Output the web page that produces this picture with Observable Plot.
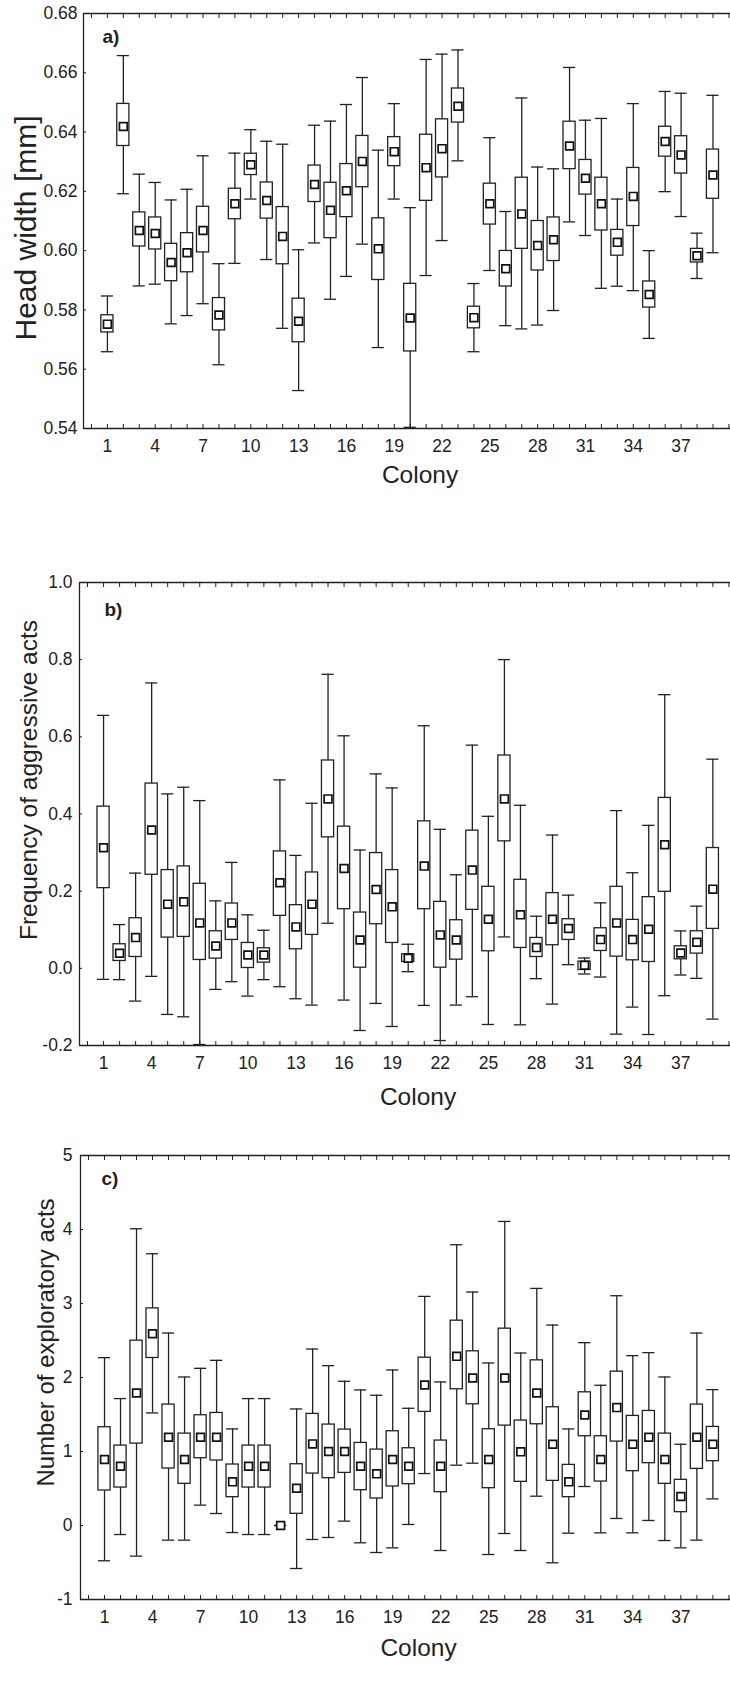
<!DOCTYPE html>
<html>
<head>
<meta charset="utf-8">
<script src="https://cdn.jsdelivr.net/npm/d3@7"></script>
<script src="https://cdn.jsdelivr.net/npm/@observablehq/plot@0.6"></script>
<style>
  body { margin: 0; background: #fff; }
  #chart svg { display: block; }
</style>
</head>
<body>
<div id="chart"></div>
<script>
// ---------- shared ----------
const colonies = d3.range(1, 40);
const xTickLabels = d3.range(1, 40, 3);
const xMinorTicks = d3.range(0, 41);
const xDomain = [-0.5, 40.1];

// ---------- panel a: head width ----------
const headTicks = [0.54, 0.56, 0.58, 0.60, 0.62, 0.64, 0.66, 0.68];
const headMean = [0.5752,0.6419,0.6068,0.6058,0.5960,0.5993,0.6068,0.5783,0.6158,0.6290,0.6169,0.6048,0.5762,0.6223,0.6136,0.6202,0.6301,0.6006,0.6334,0.5773,0.6280,0.6344,0.6487,0.5774,0.6158,0.5939,0.6124,0.6017,0.6037,0.6353,0.6244,0.6158,0.6028,0.6183,0.5852,0.6368,0.6323,0.5983,0.6255];
const headBoxLow = [0.5724,0.6353,0.6014,0.6004,0.5897,0.5927,0.5994,0.5731,0.6106,0.6255,0.6108,0.5954,0.5691,0.6164,0.6042,0.6113,0.6214,0.5901,0.6285,0.5660,0.6168,0.6247,0.6432,0.5738,0.6088,0.5879,0.6006,0.5933,0.5965,0.6275,0.6189,0.6068,0.5983,0.6083,0.5808,0.6317,0.6260,0.5960,0.6175];
const headBoxHigh = [0.5782,0.6495,0.6129,0.6112,0.6023,0.6059,0.6148,0.5840,0.6209,0.6327,0.6230,0.6147,0.5838,0.6287,0.6229,0.6292,0.6387,0.6109,0.6383,0.5888,0.6391,0.6443,0.6547,0.5811,0.6226,0.5999,0.6246,0.6100,0.6112,0.6435,0.6306,0.6246,0.6070,0.6279,0.5896,0.6418,0.6386,0.6006,0.6341];
const headWhiskerLow = [0.5659,0.6192,0.5881,0.5887,0.5753,0.5781,0.5821,0.5615,0.5957,0.6174,0.5970,0.5738,0.5528,0.6026,0.5836,0.5913,0.6022,0.5673,0.6174,0.5404,0.5916,0.6034,0.6303,0.5659,0.5933,0.5747,0.5736,0.5749,0.5798,0.6097,0.6051,0.5873,0.5880,0.5865,0.5704,0.6199,0.6115,0.5906,0.5993];
const headWhiskerHigh = [0.5847,0.6658,0.6258,0.6230,0.6171,0.6207,0.6320,0.5956,0.6329,0.6408,0.6369,0.6359,0.6003,0.6423,0.6437,0.6493,0.6584,0.6339,0.6496,0.6145,0.6645,0.6663,0.6677,0.5889,0.6381,0.6132,0.6515,0.6282,0.6276,0.6618,0.6440,0.6446,0.6174,0.6496,0.6000,0.6537,0.6531,0.6059,0.6524];

// ---------- panel b: aggressive acts ----------
const aggrTicks = [-0.2, 0.0, 0.2, 0.4, 0.6, 0.8, 1.0];
const aggrMean = [0.3126,0.0390,0.0797,0.3585,0.1663,0.1723,0.1178,0.0580,0.1178,0.0346,0.0346,0.2217,0.1074,0.1663,0.4391,0.2589,0.0736,0.2044,0.1593,0.0260,0.2650,0.0866,0.0736,0.2546,0.1273,0.4391,0.1386,0.0537,0.1273,0.1031,0.0078,0.0745,0.1178,0.0745,0.1013,0.3204,0.0398,0.0675,0.2052];
const aggrBoxLow = [0.2078,0.0191,0.0294,0.2425,0.0797,0.0814,0.0217,0.0251,0.0736,0.0009,0.0147,0.1360,0.0494,0.0866,0.3395,0.1533,0.0017,0.1143,0.0658,0.0165,0.1533,0.0017,0.0225,0.1516,0.0442,0.3291,0.0528,0.0294,0.0598,0.0736,-0.0043,0.0450,0.0303,0.0208,0.0165,0.1983,0.0234,0.0381,0.1022];
const aggrBoxHigh = [0.4191,0.0624,0.1299,0.4789,0.2546,0.2641,0.2191,0.0961,0.1680,0.0658,0.0520,0.3031,0.1637,0.2485,0.5387,0.3672,0.1446,0.2988,0.2546,0.0364,0.3810,0.1723,0.1247,0.3568,0.2113,0.5516,0.2295,0.0788,0.1949,0.1273,0.0173,0.1039,0.2113,0.1256,0.1845,0.4417,0.0572,0.0961,0.3118];
const aggrWhiskerLow = [-0.0286,-0.0294,-0.0849,-0.0208,-0.1195,-0.1256,-0.1974,-0.0546,-0.0346,-0.0719,-0.0294,-0.0476,-0.0788,-0.0953,0.1169,-0.0823,-0.1611,-0.0909,-0.1507,-0.0087,-0.0961,-0.1871,-0.0953,-0.0736,-0.1455,0.0814,-0.1464,-0.0268,-0.0927,0.0095,-0.0147,-0.0225,-0.1706,-0.1005,-0.1715,-0.0710,-0.0173,-0.0260,-0.1316];
const aggrWhiskerHigh = [0.6556,0.1134,0.2468,0.7396,0.4521,0.4694,0.4347,0.1749,0.2745,0.1386,0.0987,0.4884,0.2927,0.4278,0.7621,0.6027,0.3066,0.5040,0.4676,0.0624,0.6287,0.3603,0.2425,0.5785,0.3940,0.8002,0.4226,0.1351,0.3455,0.1897,0.0268,0.1697,0.4088,0.2477,0.3706,0.7093,0.0970,0.1611,0.5421];

// ---------- panel c: exploratory acts ----------
const explTicks = [-1, 0, 1, 2, 3, 4, 5];
const explMean = [0.891,0.801,1.791,2.592,1.193,0.891,1.193,1.193,0.590,0.801,0.801,0,0.504,1.103,0.999,0.999,0.801,0.698,0.891,0.801,1.899,0.801,2.286,1.994,0.891,1.994,0.995,1.791,1.098,0.590,1.494,0.891,1.593,1.098,1.193,0.891,0.392,1.193,1.098];
const explBoxLow = [0.473,0.513,1.107,2.264,0.770,0.563,0.909,0.878,0.383,0.513,0.513,0,0.158,0.702,0.639,0.711,0.477,0.365,0.527,0.558,1.535,0.450,1.841,1.638,0.504,1.350,0.590,1.368,0.603,0.383,1.206,0.594,1.134,0.734,0.842,0.563,0.180,0.765,0.869];
const explBoxHigh = [1.328,1.080,2.498,2.934,1.634,1.242,1.490,1.521,0.824,1.080,1.080,0,0.828,1.508,1.364,1.296,1.116,1.026,1.274,1.044,2.268,1.148,2.768,2.354,1.301,2.660,1.418,2.232,1.598,0.819,1.800,1.206,2.079,1.481,1.548,1.242,0.617,1.634,1.332];
const explWhiskerLow = [-0.477,-0.122,-0.414,1.521,-0.198,-0.198,0.275,0.162,-0.095,-0.122,-0.122,0,-0.581,-0.189,-0.162,0.059,-0.234,-0.365,-0.302,0.014,0.702,-0.338,0.815,0.842,-0.392,-0.108,-0.338,0.396,-0.504,-0.104,0.527,-0.099,0.095,-0.099,0.068,-0.203,-0.302,-0.198,0.360];
const explWhiskerHigh = [2.268,1.715,4.010,3.672,2.601,2.007,2.124,2.232,1.305,1.715,1.715,0,1.575,2.385,2.160,1.949,1.832,1.760,2.102,1.584,3.096,1.940,3.794,3.155,2.196,4.109,2.331,3.204,2.709,1.305,2.471,1.895,3.105,2.295,2.336,2.007,1.098,2.601,1.836];

// ---------- drawing ----------
const FONT = "'Liberation Sans', Arial, Helvetica, sans-serif";
const INK = "#222";
const BOX_HALF = 0.38;

function panel(cfg) {
  const rows = colonies.map((c, i) => ({
    colony: c,
    mean: cfg.mean[i],
    bLo: cfg.boxLow[i],
    bHi: cfg.boxHigh[i],
    wLo: cfg.whiskerLow[i],
    wHi: cfg.whiskerHigh[i]
  }));
  const [yMin, yMax] = d3.extent(cfg.ticks);
  return Plot.plot({
    width: 730,
    height: cfg.height,
    marginLeft: cfg.marginLeft,
    marginRight: 0,
    marginTop: cfg.marginTop,
    marginBottom: cfg.marginBottom,
    style: {fontFamily: FONT, fontSize: "17.5px", color: INK, background: "white"},
    x: {domain: xDomain},
    y: {domain: [yMin, yMax]},
    marks: [
      // whiskers
      Plot.ruleX(rows, {x: "colony", y1: "wLo", y2: "wHi", stroke: INK, strokeWidth: 1.3}),
      Plot.ruleY(rows, {y: "wHi", x1: d => d.colony - BOX_HALF, x2: d => d.colony + BOX_HALF, stroke: INK, strokeWidth: 1.3}),
      Plot.ruleY(rows, {y: "wLo", x1: d => d.colony - BOX_HALF, x2: d => d.colony + BOX_HALF, stroke: INK, strokeWidth: 1.3}),
      // boxes
      Plot.rect(rows, {x1: d => d.colony - BOX_HALF, x2: d => d.colony + BOX_HALF, y1: "bLo", y2: "bHi", fill: "white", stroke: INK, strokeWidth: 1.3}),
      // means
      Plot.dot(rows, {x: "colony", y: "mean", symbol: "square", r: 4.4, fill: "white", stroke: "#111", strokeWidth: 1.7}),
      // frame (left, top, bottom)
      Plot.ruleY([yMin], {stroke: INK, strokeWidth: 1.3}),
      Plot.ruleY([yMax], {stroke: INK, strokeWidth: 1.3}),
      Plot.ruleX([xDomain[0]], {stroke: INK, strokeWidth: 1.3}),
      // axes
      Plot.axisY({ticks: cfg.ticks, tickSize: 0, tickPadding: cfg.yPad, tickFormat: cfg.format, label: null, fontSize: 17.5}),
      Plot.axisY({ticks: cfg.ticks, tickSize: -3, tickFormat: () => "", label: null, stroke: INK}),
      Plot.axisX({anchor: "bottom", ticks: xTickLabels, tickSize: 0, tickPadding: 11, tickFormat: d => String(d), label: null, fontSize: 17.5}),
      Plot.axisX({anchor: "bottom", ticks: xMinorTicks, tickSize: -4, tickFormat: () => "", label: null, stroke: INK}),
      Plot.axisX({anchor: "top", ticks: xMinorTicks, tickSize: -4, tickFormat: () => "", label: null, stroke: INK}),
      // labels
      Plot.text([cfg.yLabel], {text: d => d, frameAnchor: "left", rotate: -90, dx: cfg.yLabelDx, dy: cfg.yLabelDy, fontSize: cfg.yLabelSize, textAnchor: "middle", lineAnchor: "middle", fill: INK}),
      Plot.text(["Colony"], {text: d => d, frameAnchor: "bottom", dx: 13, dy: cfg.colonyDy, fontSize: 24.5, lineAnchor: "middle", fill: INK}),
      Plot.text([cfg.letter], {text: d => d, frameAnchor: "top-left", dx: cfg.letterDx, dy: cfg.letterDy, fontSize: 19, fontWeight: "bold", textAnchor: "start", lineAnchor: "middle", fill: INK})
    ]
  });
}

const chart = document.getElementById("chart");
chart.append(
  panel({
    mean: headMean, boxLow: headBoxLow, boxHigh: headBoxHigh, whiskerLow: headWhiskerLow, whiskerHigh: headWhiskerHigh,
    ticks: headTicks, format: d => d.toFixed(2), yPad: 6,
    height: 560, marginLeft: 83, marginTop: 13, marginBottom: 132,
    yLabel: "Head width [mm]", yLabelSize: 30, yLabelDx: -57, yLabelDy: 7,
    colonyDy: 47, letter: "a)", letterDx: 19, letterDy: 23
  }),
  panel({
    mean: aggrMean, boxLow: aggrBoxLow, boxHigh: aggrBoxHigh, whiskerLow: aggrWhiskerLow, whiskerHigh: aggrWhiskerHigh,
    ticks: aggrTicks, format: d => d.toFixed(1), yPad: 7,
    height: 570, marginLeft: 79, marginTop: 22, marginBottom: 85,
    yLabel: "Frequency of aggressive acts", yLabelSize: 24.5, yLabelDx: -50, yLabelDy: -34,
    colonyDy: 52, letter: "b)", letterDx: 25, letterDy: 27
  }),
  panel({
    mean: explMean, boxLow: explBoxLow, boxHigh: explBoxHigh, whiskerLow: explWhiskerLow, whiskerHigh: explWhiskerHigh,
    ticks: explTicks, format: d => String(d), yPad: 8,
    height: 569, marginLeft: 80, marginTop: 25, marginBottom: 100,
    yLabel: "Number of exploratory acts", yLabelSize: 24, yLabelDx: -34, yLabelDy: -35,
    colonyDy: 49, letter: "c)", letterDx: 21, letterDy: 23
  })
);
</script>
</body>
</html>
